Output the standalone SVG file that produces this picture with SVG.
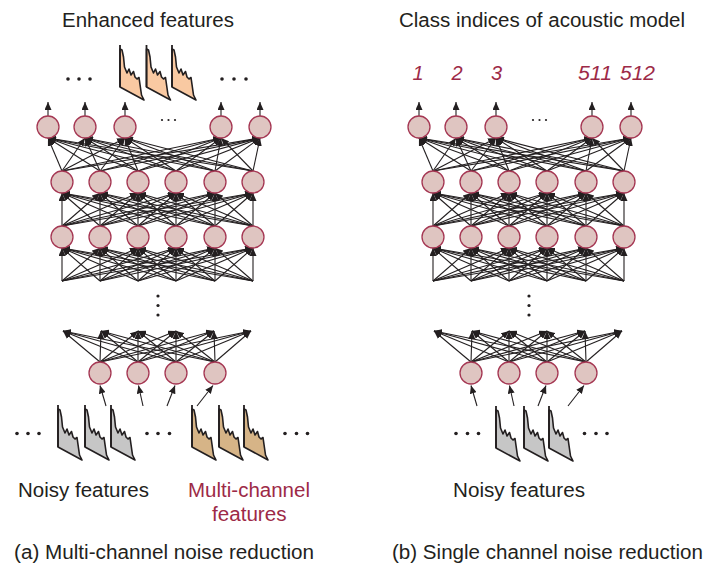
<svg xmlns="http://www.w3.org/2000/svg" width="705" height="566" viewBox="0 0 705 566">
<style>
.t{font-family:"Liberation Sans",Arial,sans-serif;font-size:20px;fill:#231f20}
.m{fill:#9d2a47}
.num{font-family:"Liberation Sans",Arial,sans-serif;font-size:20px;font-style:italic;fill:#9d2a47;text-anchor:middle}
.n{fill:#dfc5c1;stroke:#a53753;stroke-width:1.3}
.l line{stroke:#231f20;stroke-width:1.1;marker-end:url(#ah)}
.d{fill:#231f20}
</style>
<defs>
<marker id="ah" markerUnits="userSpaceOnUse" markerWidth="9" markerHeight="7" refX="8" refY="3.5" orient="auto"><path d="M0,0 L8,3.5 L0,7 Z" fill="#231f20"/></marker>
<g id="spec">
<path d="M0,42 L0,4 L2,5 L3.5,12 L4.5,22 L7,28 L9,24 L11,30 L13.5,26.5 L15,32 L17,34 L19,32.5 L21.5,50 L24,55 Z" stroke="#231f20" stroke-width="1.6" stroke-linejoin="round"/>
<line x1="0" y1="0" x2="0" y2="42" stroke="#231f20" stroke-width="1.8"/>
</g>
<g id="links" class="l">
<line x1="48" y1="116" x2="48" y2="102"/><line x1="85" y1="116" x2="85" y2="102"/><line x1="125" y1="116" x2="125" y2="102"/><line x1="221" y1="116" x2="221" y2="102"/><line x1="260" y1="116" x2="260" y2="102"/>
<line x1="62" y1="171" x2="48" y2="138"/><line x1="62" y1="171" x2="85" y2="138"/><line x1="62" y1="171" x2="125" y2="138"/><line x1="62" y1="171" x2="221" y2="138"/><line x1="62" y1="171" x2="260" y2="138"/>
<line x1="100" y1="171" x2="48" y2="138"/><line x1="100" y1="171" x2="85" y2="138"/><line x1="100" y1="171" x2="125" y2="138"/><line x1="100" y1="171" x2="221" y2="138"/><line x1="100" y1="171" x2="260" y2="138"/>
<line x1="138" y1="171" x2="48" y2="138"/><line x1="138" y1="171" x2="85" y2="138"/><line x1="138" y1="171" x2="125" y2="138"/><line x1="138" y1="171" x2="221" y2="138"/><line x1="138" y1="171" x2="260" y2="138"/>
<line x1="176" y1="171" x2="48" y2="138"/><line x1="176" y1="171" x2="85" y2="138"/><line x1="176" y1="171" x2="125" y2="138"/><line x1="176" y1="171" x2="221" y2="138"/><line x1="176" y1="171" x2="260" y2="138"/>
<line x1="215" y1="171" x2="48" y2="138"/><line x1="215" y1="171" x2="85" y2="138"/><line x1="215" y1="171" x2="125" y2="138"/><line x1="215" y1="171" x2="221" y2="138"/><line x1="215" y1="171" x2="260" y2="138"/>
<line x1="253" y1="171" x2="48" y2="138"/><line x1="253" y1="171" x2="85" y2="138"/><line x1="253" y1="171" x2="125" y2="138"/><line x1="253" y1="171" x2="221" y2="138"/><line x1="253" y1="171" x2="260" y2="138"/>
<line x1="62" y1="226" x2="62" y2="193"/><line x1="62" y1="226" x2="100" y2="193"/><line x1="62" y1="226" x2="138" y2="193"/><line x1="62" y1="226" x2="176" y2="193"/><line x1="62" y1="226" x2="215" y2="193"/><line x1="62" y1="226" x2="253" y2="193"/>
<line x1="100" y1="226" x2="62" y2="193"/><line x1="100" y1="226" x2="100" y2="193"/><line x1="100" y1="226" x2="138" y2="193"/><line x1="100" y1="226" x2="176" y2="193"/><line x1="100" y1="226" x2="215" y2="193"/><line x1="100" y1="226" x2="253" y2="193"/>
<line x1="138" y1="226" x2="62" y2="193"/><line x1="138" y1="226" x2="100" y2="193"/><line x1="138" y1="226" x2="138" y2="193"/><line x1="138" y1="226" x2="176" y2="193"/><line x1="138" y1="226" x2="215" y2="193"/><line x1="138" y1="226" x2="253" y2="193"/>
<line x1="176" y1="226" x2="62" y2="193"/><line x1="176" y1="226" x2="100" y2="193"/><line x1="176" y1="226" x2="138" y2="193"/><line x1="176" y1="226" x2="176" y2="193"/><line x1="176" y1="226" x2="215" y2="193"/><line x1="176" y1="226" x2="253" y2="193"/>
<line x1="215" y1="226" x2="62" y2="193"/><line x1="215" y1="226" x2="100" y2="193"/><line x1="215" y1="226" x2="138" y2="193"/><line x1="215" y1="226" x2="176" y2="193"/><line x1="215" y1="226" x2="215" y2="193"/><line x1="215" y1="226" x2="253" y2="193"/>
<line x1="253" y1="226" x2="62" y2="193"/><line x1="253" y1="226" x2="100" y2="193"/><line x1="253" y1="226" x2="138" y2="193"/><line x1="253" y1="226" x2="176" y2="193"/><line x1="253" y1="226" x2="215" y2="193"/><line x1="253" y1="226" x2="253" y2="193"/>
<line x1="62" y1="281" x2="62" y2="248"/><line x1="62" y1="281" x2="100" y2="248"/><line x1="62" y1="281" x2="138" y2="248"/><line x1="62" y1="281" x2="176" y2="248"/><line x1="62" y1="281" x2="215" y2="248"/><line x1="62" y1="281" x2="253" y2="248"/>
<line x1="100" y1="281" x2="62" y2="248"/><line x1="100" y1="281" x2="100" y2="248"/><line x1="100" y1="281" x2="138" y2="248"/><line x1="100" y1="281" x2="176" y2="248"/><line x1="100" y1="281" x2="215" y2="248"/><line x1="100" y1="281" x2="253" y2="248"/>
<line x1="138" y1="281" x2="62" y2="248"/><line x1="138" y1="281" x2="100" y2="248"/><line x1="138" y1="281" x2="138" y2="248"/><line x1="138" y1="281" x2="176" y2="248"/><line x1="138" y1="281" x2="215" y2="248"/><line x1="138" y1="281" x2="253" y2="248"/>
<line x1="176" y1="281" x2="62" y2="248"/><line x1="176" y1="281" x2="100" y2="248"/><line x1="176" y1="281" x2="138" y2="248"/><line x1="176" y1="281" x2="176" y2="248"/><line x1="176" y1="281" x2="215" y2="248"/><line x1="176" y1="281" x2="253" y2="248"/>
<line x1="215" y1="281" x2="62" y2="248"/><line x1="215" y1="281" x2="100" y2="248"/><line x1="215" y1="281" x2="138" y2="248"/><line x1="215" y1="281" x2="176" y2="248"/><line x1="215" y1="281" x2="215" y2="248"/><line x1="215" y1="281" x2="253" y2="248"/>
<line x1="253" y1="281" x2="62" y2="248"/><line x1="253" y1="281" x2="100" y2="248"/><line x1="253" y1="281" x2="138" y2="248"/><line x1="253" y1="281" x2="176" y2="248"/><line x1="253" y1="281" x2="215" y2="248"/><line x1="253" y1="281" x2="253" y2="248"/>
<line x1="100" y1="362" x2="63" y2="331"/><line x1="100" y1="362" x2="101" y2="331"/><line x1="100" y1="362" x2="138" y2="331"/><line x1="100" y1="362" x2="176" y2="331"/><line x1="100" y1="362" x2="214" y2="331"/><line x1="100" y1="362" x2="251" y2="331"/>
<line x1="138" y1="362" x2="63" y2="331"/><line x1="138" y1="362" x2="101" y2="331"/><line x1="138" y1="362" x2="138" y2="331"/><line x1="138" y1="362" x2="176" y2="331"/><line x1="138" y1="362" x2="214" y2="331"/><line x1="138" y1="362" x2="251" y2="331"/>
<line x1="176" y1="362" x2="63" y2="331"/><line x1="176" y1="362" x2="101" y2="331"/><line x1="176" y1="362" x2="138" y2="331"/><line x1="176" y1="362" x2="176" y2="331"/><line x1="176" y1="362" x2="214" y2="331"/><line x1="176" y1="362" x2="251" y2="331"/>
<line x1="215" y1="362" x2="63" y2="331"/><line x1="215" y1="362" x2="101" y2="331"/><line x1="215" y1="362" x2="138" y2="331"/><line x1="215" y1="362" x2="176" y2="331"/><line x1="215" y1="362" x2="214" y2="331"/><line x1="215" y1="362" x2="251" y2="331"/>
<line x1="106" y1="406" x2="100" y2="385.5"/><line x1="143" y1="406" x2="138.5" y2="385.5"/><line x1="167" y1="406" x2="175" y2="385.5"/><line x1="197" y1="406" x2="213" y2="385.5"/>
</g>
</defs>

<g id="connectors">
<use href="#links"/>
<use href="#links" transform="translate(371,0)"/>
</g>

<!-- Panel (a) -->
<g id="a-title"><text class="t" x="62" y="27" textLength="172" lengthAdjust="spacingAndGlyphs">Enhanced features</text></g>
<g id="a-enhanced">
<circle class="d" cx="68" cy="79" r="1.8"/><circle class="d" cx="79" cy="79" r="1.8"/><circle class="d" cx="90" cy="79" r="1.8"/>
<use href="#spec" x="120" y="45" fill="#f9c9a2"/>
<use href="#spec" x="146.5" y="45" fill="#f9c9a2"/>
<use href="#spec" x="172" y="45" fill="#f9c9a2"/>
<circle class="d" cx="222" cy="79" r="1.8"/><circle class="d" cx="234" cy="79" r="1.8"/><circle class="d" cx="246" cy="79" r="1.8"/>
</g>
<g id="a-out1"><circle class="n" cx="48" cy="127" r="11"/></g>
<g id="a-out2"><circle class="n" cx="85" cy="127" r="11"/></g>
<g id="a-out3"><circle class="n" cx="125" cy="127" r="11"/></g>
<g id="a-outdots"><circle class="d" cx="162" cy="120" r="1.1"/><circle class="d" cx="168.5" cy="120" r="1.1"/><circle class="d" cx="175" cy="120" r="1.1"/></g>
<g id="a-out4"><circle class="n" cx="221" cy="127" r="11"/></g>
<g id="a-out5"><circle class="n" cx="260" cy="127" r="11"/></g>
<g id="a-h1-1"><circle class="n" cx="62" cy="182" r="11"/></g>
<g id="a-h1-2"><circle class="n" cx="100" cy="182" r="11"/></g>
<g id="a-h1-3"><circle class="n" cx="138" cy="182" r="11"/></g>
<g id="a-h1-4"><circle class="n" cx="176" cy="182" r="11"/></g>
<g id="a-h1-5"><circle class="n" cx="215" cy="182" r="11"/></g>
<g id="a-h1-6"><circle class="n" cx="253" cy="182" r="11"/></g>
<g id="a-h2-1"><circle class="n" cx="62" cy="237" r="11"/></g>
<g id="a-h2-2"><circle class="n" cx="100" cy="237" r="11"/></g>
<g id="a-h2-3"><circle class="n" cx="138" cy="237" r="11"/></g>
<g id="a-h2-4"><circle class="n" cx="176" cy="237" r="11"/></g>
<g id="a-h2-5"><circle class="n" cx="215" cy="237" r="11"/></g>
<g id="a-h2-6"><circle class="n" cx="253" cy="237" r="11"/></g>
<g id="a-vdots"><circle class="d" cx="158" cy="296" r="1.6"/><circle class="d" cx="158" cy="305.5" r="1.6"/><circle class="d" cx="158" cy="315" r="1.6"/></g>
<g id="a-in1"><circle class="n" cx="100" cy="373" r="11"/></g>
<g id="a-in2"><circle class="n" cx="138" cy="373" r="11"/></g>
<g id="a-in3"><circle class="n" cx="176" cy="373" r="11"/></g>
<g id="a-in4"><circle class="n" cx="215" cy="373" r="11"/></g>
<g id="a-noisy">
<circle class="d" cx="17" cy="433.5" r="1.8"/><circle class="d" cx="28" cy="433.5" r="1.8"/><circle class="d" cx="39" cy="433.5" r="1.8"/>
<use href="#spec" x="58" y="405" fill="#c6c6c6"/>
<use href="#spec" x="85" y="405" fill="#c6c6c6"/>
<use href="#spec" x="111" y="405" fill="#c6c6c6"/>
<circle class="d" cx="147" cy="433.5" r="1.8"/><circle class="d" cx="158" cy="433.5" r="1.8"/><circle class="d" cx="169.5" cy="433.5" r="1.8"/>
</g>
<g id="a-multi">
<use href="#spec" x="192" y="405" fill="#d6b487"/>
<use href="#spec" x="219" y="405" fill="#d6b487"/>
<use href="#spec" x="244" y="405" fill="#d6b487"/>
<circle class="d" cx="285" cy="433.5" r="1.8"/><circle class="d" cx="296.5" cy="433.5" r="1.8"/><circle class="d" cx="307.5" cy="433.5" r="1.8"/>
</g>
<g id="a-labels">
<text class="t" x="18" y="497" textLength="131" lengthAdjust="spacingAndGlyphs">Noisy features</text>
<text class="t m" x="188" y="497" textLength="122" lengthAdjust="spacingAndGlyphs">Multi-channel</text>
<text class="t m" x="212" y="521" textLength="74.5" lengthAdjust="spacingAndGlyphs">features</text>
<text class="t" x="14" y="559" textLength="300" lengthAdjust="spacingAndGlyphs">(a) Multi-channel noise reduction</text>
</g>

<!-- Panel (b) -->
<g id="b-title"><text class="t" x="399" y="27" textLength="286" lengthAdjust="spacingAndGlyphs">Class indices of acoustic model</text></g>
<g id="b-indices">
<text class="num" x="418" y="80">1</text>
<text class="num" x="457" y="80">2</text>
<text class="num" x="496.5" y="80">3</text>
<text class="num" x="595" y="80" textLength="34" lengthAdjust="spacingAndGlyphs">511</text>
<text class="num" x="637.5" y="80" textLength="35" lengthAdjust="spacingAndGlyphs">512</text>
</g>
<g id="b-out1"><circle class="n" cx="419" cy="127" r="11"/></g>
<g id="b-out2"><circle class="n" cx="456" cy="127" r="11"/></g>
<g id="b-out3"><circle class="n" cx="496" cy="127" r="11"/></g>
<g id="b-outdots"><circle class="d" cx="533" cy="120" r="1.1"/><circle class="d" cx="539.5" cy="120" r="1.1"/><circle class="d" cx="546" cy="120" r="1.1"/></g>
<g id="b-out4"><circle class="n" cx="592" cy="127" r="11"/></g>
<g id="b-out5"><circle class="n" cx="631" cy="127" r="11"/></g>
<g id="b-h1-1"><circle class="n" cx="433" cy="182" r="11"/></g>
<g id="b-h1-2"><circle class="n" cx="471" cy="182" r="11"/></g>
<g id="b-h1-3"><circle class="n" cx="509" cy="182" r="11"/></g>
<g id="b-h1-4"><circle class="n" cx="547" cy="182" r="11"/></g>
<g id="b-h1-5"><circle class="n" cx="586" cy="182" r="11"/></g>
<g id="b-h1-6"><circle class="n" cx="624" cy="182" r="11"/></g>
<g id="b-h2-1"><circle class="n" cx="433" cy="237" r="11"/></g>
<g id="b-h2-2"><circle class="n" cx="471" cy="237" r="11"/></g>
<g id="b-h2-3"><circle class="n" cx="509" cy="237" r="11"/></g>
<g id="b-h2-4"><circle class="n" cx="547" cy="237" r="11"/></g>
<g id="b-h2-5"><circle class="n" cx="586" cy="237" r="11"/></g>
<g id="b-h2-6"><circle class="n" cx="624" cy="237" r="11"/></g>
<g id="b-vdots"><circle class="d" cx="529" cy="296" r="1.6"/><circle class="d" cx="529" cy="305.5" r="1.6"/><circle class="d" cx="529" cy="315" r="1.6"/></g>
<g id="b-in1"><circle class="n" cx="471" cy="373" r="11"/></g>
<g id="b-in2"><circle class="n" cx="509" cy="373" r="11"/></g>
<g id="b-in3"><circle class="n" cx="547" cy="373" r="11"/></g>
<g id="b-in4"><circle class="n" cx="586" cy="373" r="11"/></g>
<g id="b-noisy">
<circle class="d" cx="456" cy="433.5" r="1.8"/><circle class="d" cx="467.5" cy="433.5" r="1.8"/><circle class="d" cx="478.5" cy="433.5" r="1.8"/>
<use href="#spec" x="496" y="406" fill="#c6c6c6"/>
<use href="#spec" x="524" y="406" fill="#c6c6c6"/>
<use href="#spec" x="549" y="406" fill="#c6c6c6"/>
<circle class="d" cx="584.5" cy="433.5" r="1.8"/><circle class="d" cx="596" cy="433.5" r="1.8"/><circle class="d" cx="607" cy="433.5" r="1.8"/>
</g>
<g id="b-labels">
<text class="t" x="453" y="497" textLength="132" lengthAdjust="spacingAndGlyphs">Noisy features</text>
<text class="t" x="392" y="559" textLength="311" lengthAdjust="spacingAndGlyphs">(b) Single channel noise reduction</text>
</g>
</svg>
